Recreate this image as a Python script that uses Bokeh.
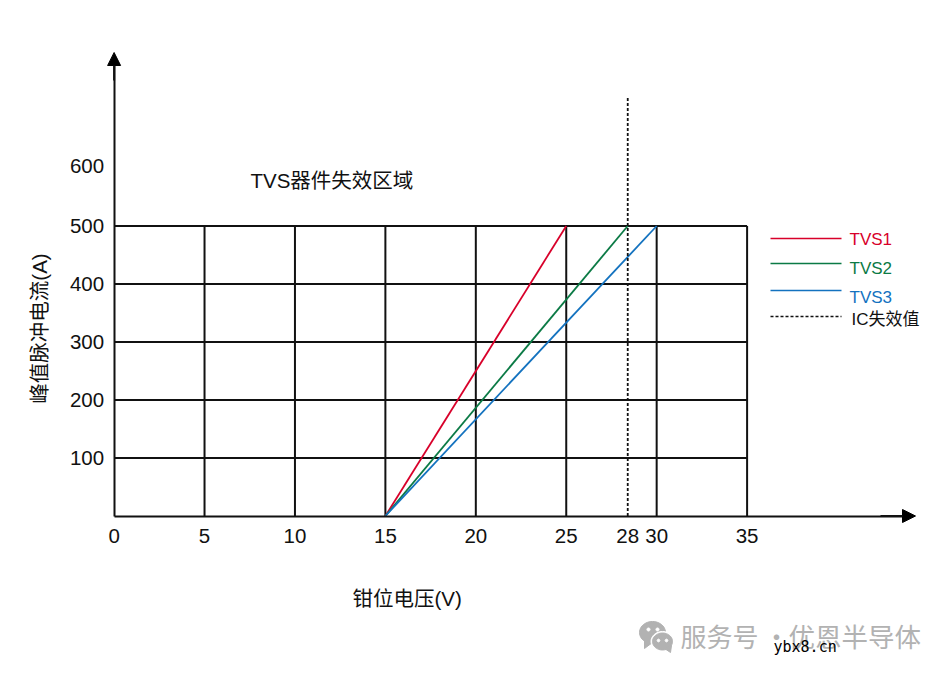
import numpy as np
from bokeh.embed import file_html
from bokeh.resources import INLINE
from bokeh.plotting import figure
from bokeh.models import Arrow, NormalHead, Label, PolyAnnotation, FixedTicker, Range1d

# ---- data ----
x_ticks = [0, 5, 10, 15, 20, 25, 28.4, 30, 35]
x_tick_labels = ["0", "5", "10", "15", "20", "25", "28", "30", "35"]
y_ticks = [100, 200, 300, 400, 500, 604]
y_tick_labels = ["100", "200", "300", "400", "500", "600"]
grid_x = [5, 10, 15, 20, 25, 30, 35]
grid_y = [100, 200, 300, 400, 500]
tvs1_x = [15, 25]
tvs1_y = [0, 500]
tvs2_x = [15, 28.4]
tvs2_y = [0, 500]
tvs3_x = [15, 30]
tvs3_y = [0, 500]
ic_x = [28.4, 28.4]
ic_y = [0, 722]
series_names = ["TVS1", "TVS2", "TVS3", "IC失效值"]
series_colors = ["#d8002a", "#0b7a45", "#1372bf", "#111111"]

FONT = "Liberation Sans, Noto Sans CJK SC"
INK = "#111111"

# page pixel -> data helpers for the annotation placement
PX_PER_X = 633 / 35
PX_PER_Y = 290 / 500
def dx(px): return (px - 113.6) / PX_PER_X
def dy(py): return (515.5 - py) / PX_PER_Y

W, H = 940, 670
p = figure(width=W, height=H, output_backend="svg", toolbar_location=None,
           x_range=Range1d(dx(0), dx(W)), y_range=Range1d(dy(H), dy(0)),
           min_border_left=0, min_border_right=0, min_border_top=0, min_border_bottom=0)
p.outline_line_color = None
p.xgrid.visible = False
p.ygrid.visible = False
p.background_fill_color = "white"

for ax, ticks, labels, standoff, bounds in ((p.xaxis[0], x_ticks, x_tick_labels, 7, (0, dx(905))),
                                            (p.yaxis[0], y_ticks, y_tick_labels, 4, (0, dy(62)))):
    ax.fixed_location = 0
    ax.bounds = bounds
    ax.ticker = FixedTicker(ticks=ticks)
    ax.major_label_overrides = dict(zip(ticks, labels))
    ax.major_tick_line_color = None
    ax.minor_tick_line_color = None
    ax.axis_line_color = INK
    ax.axis_line_width = 2
    ax.major_label_text_font = FONT
    ax.major_label_text_font_size = "20.5px"
    ax.major_label_text_color = INK
    ax.major_label_standoff = standoff
p.yaxis[0].major_label_orientation = "horizontal"

# grid rectangle bounded to the plotted region
p.segment(x0=grid_x, y0=[0] * len(grid_x), x1=grid_x, y1=[500] * len(grid_x),
          line_color=INK, line_width=2)
p.segment(x0=[0] * len(grid_y), y0=grid_y, x1=[35] * len(grid_y), y1=grid_y,
          line_color=INK, line_width=2)

# series
p.line(tvs1_x, tvs1_y, line_color=series_colors[0], line_width=1.8)
p.line(tvs2_x, tvs2_y, line_color=series_colors[1], line_width=1.8)
p.line(tvs3_x, tvs3_y, line_color=series_colors[2], line_width=1.8)
p.line(ic_x, ic_y, line_color=series_colors[3], line_width=1.8, line_dash="3 2")

# axis arrow heads
head = dict(size=13, fill_color="black", line_color="black")
p.add_layout(Arrow(end=NormalHead(**head), x_start=dx(113.6), y_start=dy(80), x_end=dx(113.6), y_end=dy(52),
                   line_color=INK, line_width=2))
p.add_layout(Arrow(end=NormalHead(**head), x_start=dx(880), y_start=dy(515.5), x_end=dx(915), y_end=dy(515.5),
                   line_color=INK, line_width=2))

def text(t, px, py, size, color=INK, align="left", angle=0.0, font=FONT, style="normal"):
    p.add_layout(Label(x=dx(px), y=dy(py), text=t, text_font=font, text_font_size=size,
                       text_font_style=style, text_color=color, text_align=align,
                       text_baseline="middle", angle=angle))

text("TVS器件失效区域", 250, 180, "20.5px")
text("钳位电压(V)", 352, 598, "20.5px")
text("峰值脉冲电流(A)", 39, 328, "20.5px", align="center", angle=np.pi / 2)

# hand-placed legend
legend_line_y = [238, 263, 290, 316]
legend_text_y = [239, 268, 297, 319]
legend_text_x = [849, 849, 849, 851]
for i, name in enumerate(series_names):
    dash = "3 2" if i == 3 else "solid"
    p.line([dx(770), dx(841)], [dy(legend_line_y[i])] * 2, line_color=series_colors[i],
           line_width=1.6, line_dash=dash)
    text(name, legend_text_x[i], legend_text_y[i], "17px", color=series_colors[i])

# watermark
GRAY = "#b2b2b2"
CJK = "Noto Sans CJK SC"
text("服务号", 680, 635, "26px", color=GRAY, font=CJK)
text("·", 763, 635, "26px", color=GRAY, font=CJK)
text("优恩半导体", 788, 635, "26.5px", color=GRAY, font=CJK)

def bubble(cx, cy, rx, ry, color, tail=None):
    t = np.linspace(0, 2 * np.pi, 48, endpoint=False)
    xs = list(dx(cx + rx * np.cos(t)))
    ys = list(dy(cy + ry * np.sin(t)))
    p.add_layout(PolyAnnotation(xs=xs, ys=ys, fill_color=color, fill_alpha=1, line_color=color, line_alpha=1))
    if tail:
        p.add_layout(PolyAnnotation(xs=[dx(v) for v in tail[0]], ys=[dy(v) for v in tail[1]],
                                    fill_color=color, fill_alpha=1, line_color=color, line_alpha=1))

bubble(652, 632, 13, 11, GRAY, tail=([644, 652, 644], [640, 642, 648]))
bubble(662, 641, 11.5, 10, "white")
bubble(662, 641, 10, 8.5, GRAY, tail=([664, 671, 670], [648, 645, 652]))
for cx, cy, r in ((648, 629, 1.6), (657, 629, 1.6), (658, 640, 1.4), (666, 640, 1.4)):
    bubble(cx, cy, r, r, "white")

text("ybx8.cn", 773, 646, "15px", color="black", font="DejaVu Sans Mono")

open("out.html", "w").write(file_html(p, INLINE))
